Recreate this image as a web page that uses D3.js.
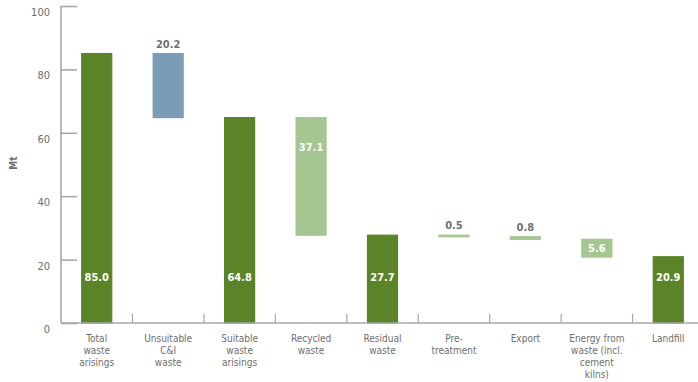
<!DOCTYPE html>
<html>
<head>
<meta charset="utf-8">
<script src="https://cdn.jsdelivr.net/npm/d3@7"></script>
<style>
  body { margin: 0; background: #fff; }
  svg text { font-family: "Liberation Sans Narrow", "DejaVu Sans Condensed", "Arial Narrow", sans-serif; }
</style>
</head>
<body>
<svg id="chart" width="698" height="382"></svg>
<script>
// Waste flow (Mt): each step is a floating bar from start to end
const categories = [
  ["Total", "waste", "arisings"],
  ["Unsuitable", "C&I", "waste"],
  ["Suitable", "waste", "arisings"],
  ["Recycled", "waste"],
  ["Residual", "waste"],
  ["Pre-", "treatment"],
  ["Export"],
  ["Energy from", "waste (incl.", "cement", "kilns)"],
  ["Landfill"]
];
const barStart = [0, 85.0, 0, 64.8, 0, 27.7, 27.2, 26.4, 0];
const barEnd   = [85.0, 64.8, 64.8, 27.7, 27.7, 27.2, 26.4, 20.8, 20.9];
const valueLabels = ["85.0", "20.2", "64.8", "37.1", "27.7", "0.5", "0.8", "5.6", "20.9"];
const barKind = ["total", "loss", "total", "flow", "total", "flow", "flow", "flow", "total"];
const labelPos = ["bottom", "above", "bottom", "top", "bottom", "above", "above", "middle", "bottom"];
const yTicks = [0, 20, 40, 60, 80, 100];

const colors = { total: "#5b8428", loss: "#7b9cb7", flow: "#a5c691" };

const svg = d3.select("#chart");
const plotLeft = 61, plotRight = 704, plotTop = 6, plotBottom = 323;

const x = d3.scaleBand().domain(d3.range(categories.length)).range([plotLeft, plotRight]);
const y = d3.scaleLinear().domain([0, 100]).range([plotBottom, plotTop]);
const barW = 30;

// y axis: line with ticks pointing into the plot
const yAxis = svg.append("g").attr("transform", `translate(${plotLeft},0)`)
  .call(d3.axisRight(y).tickValues(yTicks).tickSize(16).tickFormat(""));
yAxis.select(".domain").attr("stroke", "#a8a8a8").attr("stroke-width", 1.6).attr("d", `M0,${plotTop}V${plotBottom}`);
yAxis.selectAll(".tick line").attr("stroke", "#a8a8a8").attr("stroke-width", 1.6);

svg.append("g").selectAll("text").data(yTicks).join("text")
  .attr("x", 50).attr("y", d => y(d) + 10)
  .attr("text-anchor", "end").attr("font-size", 11).attr("fill", "#6e6e6e")
  .text(d => d);

svg.append("text")
  .attr("transform", `translate(17,163) rotate(-90)`)
  .attr("text-anchor", "middle").attr("font-size", 10).attr("font-weight", "bold").attr("fill", "#6e6e6e")
  .text("Mt");

// bars
svg.append("g").selectAll("rect").data(categories).join("rect")
  .attr("x", (d, i) => x(i) + x.bandwidth() / 2 - barW / 2)
  .attr("width", barW)
  .attr("y", (d, i) => y(Math.max(barStart[i], barEnd[i])))
  .attr("height", (d, i) => Math.abs(y(barStart[i]) - y(barEnd[i])))
  .attr("fill", (d, i) => colors[barKind[i]])
  .attr("stroke", (d, i) => colors[barKind[i]])
  .attr("stroke-width", 1.2);

// x axis baseline and separators between categories
svg.append("line").attr("x1", plotLeft).attr("x2", 698).attr("y1", plotBottom).attr("y2", plotBottom)
  .attr("stroke", "#a8a8a8").attr("stroke-width", 1.6);
svg.append("g").selectAll("line").data(d3.range(1, categories.length)).join("line")
  .attr("x1", i => x(i)).attr("x2", i => x(i))
  .attr("y1", plotBottom).attr("y2", plotBottom - 9)
  .attr("stroke", "#a8a8a8").attr("stroke-width", 1.2);

// category labels
const catG = svg.append("g").selectAll("text").data(categories).join("text")
  .attr("text-anchor", "middle").attr("font-size", 10).attr("fill", "#6e6e6e");
catG.selectAll("tspan").data((d, i) => d.map(line => ({ line, i }))).join("tspan")
  .attr("x", d => x(d.i) + x.bandwidth() / 2)
  .attr("y", (d, j) => 342 + j * 12)
  .text(d => d.line);

// value labels
svg.append("g").selectAll("text").data(valueLabels).join("text")
  .attr("x", (d, i) => x(i) + x.bandwidth() / 2)
  .attr("y", (d, i) => {
    const hi = y(Math.max(barStart[i], barEnd[i]));
    const lo = y(Math.min(barStart[i], barEnd[i]));
    if (labelPos[i] === "bottom") return plotBottom - 42;
    if (labelPos[i] === "above") return hi - 6;
    if (labelPos[i] === "top") return hi + 33;
    return (hi + lo) / 2 + 4;
  })
  .attr("text-anchor", "middle").attr("font-size", 11).attr("font-weight", "bold")
  .attr("fill", (d, i) => labelPos[i] === "above" ? "#707070" : "#ffffff")
  .text(d => d);
</script>
</body>
</html>
